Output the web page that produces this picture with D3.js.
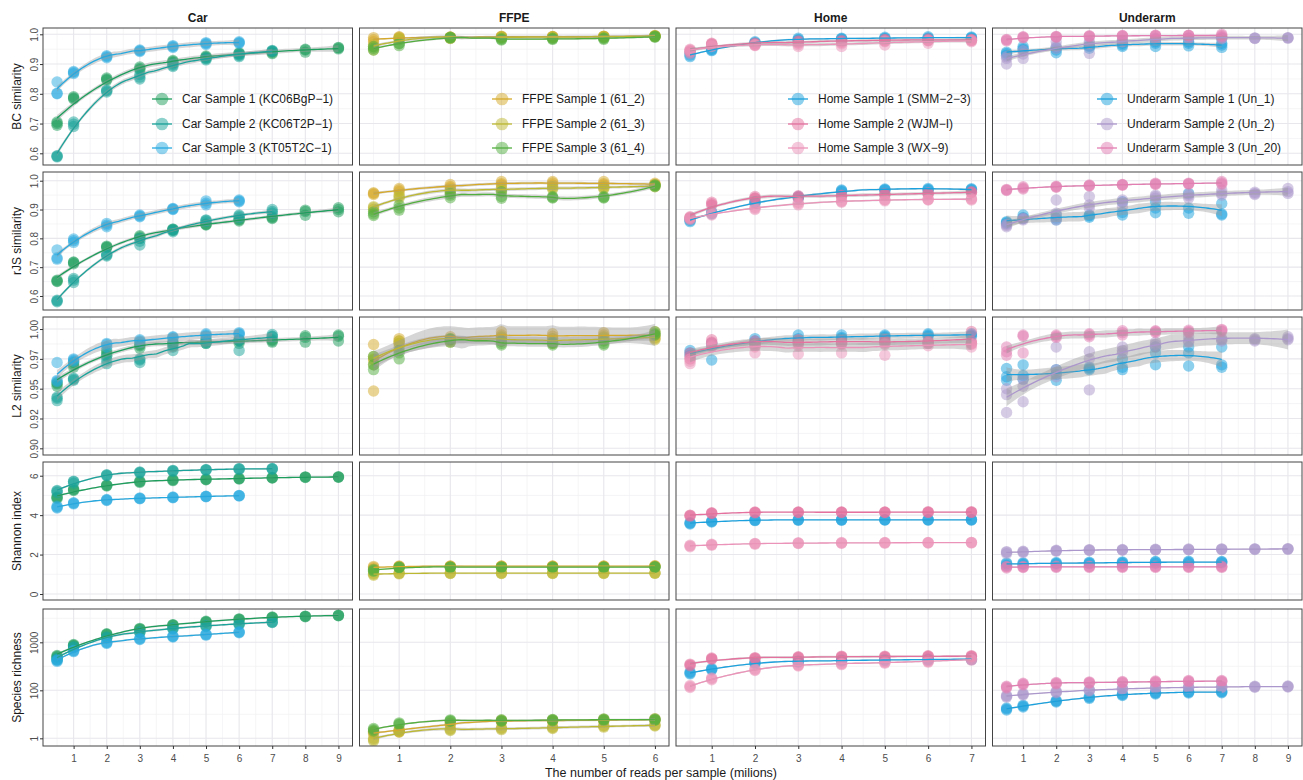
<!DOCTYPE html>
<html>
<head>
<meta charset="utf-8">
<script src="https://cdn.jsdelivr.net/npm/d3@7"></script>
<style>
  body { margin: 0; background: #ffffff; }
  svg { display: block; }
  text { font-family: "Liberation Sans", Arial, Helvetica, sans-serif; }
</style>
</head>
<body>
<svg id="chart" width="1303" height="780"></svg>
<script>
// ---------------------------------------------------------------------------
// Sequencing depths (millions of reads) and facet labels
// ---------------------------------------------------------------------------
const READS = [0.5, 1, 2, 3, 4, 5, 6, 7, 8, 9];
const ENVIRONMENTS = ["Car", "FFPE", "Home", "Underarm"];
const METRICS = ["BC similarity", "rJS similarity", "L2 similarity", "Shannon index", "Species richness"];

const CAR_SAMPLES = ["Car Sample 1 (KC06BgP\u22121)", "Car Sample 2 (KC06T2P\u22121)", "Car Sample 3 (KT05T2C\u22121)"];
const FFPE_SAMPLES = ["FFPE Sample 1 (61_2)", "FFPE Sample 2 (61_3)", "FFPE Sample 3 (61_4)"];
const HOME_SAMPLES = ["Home Sample 1 (SMM\u22122\u22123)", "Home Sample 2 (WJM\u2212I)", "Home Sample 3 (WX\u22129)"];
const UNDERARM_SAMPLES = ["Underarm Sample 1 (Un_1)", "Underarm Sample 2 (Un_2)", "Underarm Sample 3 (Un_20)"];

const CAR_COLORS = ["#1E9E5C", "#1AA39A", "#27A9DF"];
const FFPE_COLORS = ["#D6A92A", "#BDB832", "#52AE3E"];
const HOME_COLORS = ["#1BA1DD", "#E4719E", "#EB93B8"];
const UNDERARM_COLORS = ["#1BA1DD", "#AC97CC", "#E27EB1"];

// Axis ticks
const X_TICKS = [[1, 2, 3, 4, 5, 6, 7, 8, 9], [1, 2, 3, 4, 5, 6], [1, 2, 3, 4, 5, 6, 7], [1, 2, 3, 4, 5, 6, 7, 8, 9]];
const X_MINOR = [[0.5, 1.5, 2.5, 3.5, 4.5, 5.5, 6.5, 7.5, 8.5], [0.5, 1.5, 2.5, 3.5, 4.5, 5.5], [0.5, 1.5, 2.5, 3.5, 4.5, 5.5, 6.5], [0.5, 1.5, 2.5, 3.5, 4.5, 5.5, 6.5, 7.5, 8.5]];
const X_DOMAINS = [[0.075, 9.425], [0.225, 6.275], [0.175, 7.325], [0.075, 9.425]];

const Y_TICKS = [[0.6, 0.7, 0.8, 0.9, 1.0], [0.6, 0.7, 0.8, 0.9, 1.0], [0.9, 0.925, 0.95, 0.975, 1.0], [0, 2, 4, 6], [10, 100, 1000]];
const Y_TICK_LABELS = [["0.6", "0.7", "0.8", "0.9", "1.0"], ["0.6", "0.7", "0.8", "0.9", "1.0"], ["0.90", "0.92", "0.95", "0.97", "1.00"], ["0", "2", "4", "6"], ["1", "100", "1000"]];
const Y_MINOR = [[0.65, 0.75, 0.85, 0.95], [0.65, 0.75, 0.85, 0.95], [0.9125, 0.9375, 0.9625, 0.9875], [1, 3, 5], [31.62, 316.2, 3162]];
const Y_DOMAINS = [[0.5607, 1.0212], [0.5514, 1.0302], [0.8944, 1.0101], [-0.304, 6.695], [6.92, 4943]];

// ---------------------------------------------------------------------------
// Replicate values per sample; each inner triple belongs to READS[i]
// ---------------------------------------------------------------------------
// Bray-Curtis similarity
const BC_CAR = [
  [[0.705,0.694,0.700],[0.786,0.790,0.783],[0.849,0.853,0.846],[0.885,0.890,0.881],[0.909,0.912,0.905],[0.924,0.927,0.920],[0.935,0.938,0.931],[0.938,0.942,0.935],[0.950,0.940,0.947],[0.954,0.956,0.951]],
  [[0.590,0.588,0.592],[0.705,0.690,0.698],[0.810,0.813,0.806],[0.856,0.865,0.850],[0.896,0.900,0.892],[0.918,0.922,0.914],[0.929,0.935,0.925],[0.946,0.942,0.944]],
  [[0.840,0.800,0.802],[0.875,0.868,0.872],[0.925,0.921,0.928],[0.945,0.942,0.947],[0.959,0.956,0.962],[0.969,0.972,0.966],[0.972,0.975,0.970]]
];
const BC_FFPE = [
  [[0.989,0.975,0.982],[0.992,0.987,0.990],[0.990,0.988,0.991],[0.994,0.990,0.992],[0.993,0.990,0.992],[0.994,0.992,0.993],[0.994,0.996,0.993]],
  [[0.947,0.965,0.958],[0.985,0.982,0.988],[0.988,0.990,0.986],[0.992,0.988,0.990],[0.991,0.988,0.992],[0.993,0.990,0.991],[0.995,0.993,0.994]],
  [[0.959,0.947,0.953],[0.970,0.962,0.968],[0.989,0.987,0.990],[0.983,0.981,0.986],[0.983,0.985,0.987],[0.983,0.986,0.988],[0.994,0.990,0.992]]
];
const BC_HOME = [
  [[0.925,0.936,0.930],[0.947,0.950,0.945],[0.975,0.972,0.970],[0.987,0.980,0.983],[0.987,0.985,0.983],[0.990,0.987,0.985],[0.992,0.988,0.986],[0.989,0.991,0.987]],
  [[0.947,0.940,0.943],[0.970,0.965,0.968],[0.964,0.968,0.970],[0.975,0.978,0.972],[0.975,0.979,0.976],[0.981,0.978,0.983],[0.981,0.984,0.979],[0.981,0.983,0.980]],
  [[0.936,0.945,0.950],[0.959,0.965,0.962],[0.964,0.962,0.966],[0.959,0.970,0.965],[0.959,0.968,0.972],[0.964,0.975,0.978],[0.970,0.978,0.980],[0.975,0.978,0.980]]
];
const BC_UNDERARM = [
  [[0.936,0.930,0.940],[0.959,0.947,0.952],[0.947,0.938,0.955],[0.959,0.953,0.962],[0.964,0.959,0.970],[0.970,0.959,0.975],[0.970,0.961,0.975],[0.964,0.956,0.970]],
  [[0.919,0.900,0.925],[0.934,0.919,0.945],[0.975,0.953,0.960],[0.936,0.970,0.975],[0.975,0.980,0.978],[0.987,0.982,0.984],[0.987,0.985,0.988],[0.987,0.985,0.989],[0.987,0.988,0.986],[0.987,0.989,0.988]],
  [[0.981,0.978,0.983],[0.992,0.988,0.990],[0.992,0.990,0.993],[0.994,0.992,0.995],[0.995,0.993,0.996],[0.996,0.994,0.997],[0.997,0.995,0.996],[1.000,0.992,0.996]]
];

// rJS similarity
const RJS_CAR = [
  [[0.655,0.650,0.652],[0.716,0.712,0.718],[0.773,0.768,0.770],[0.809,0.800,0.805],[0.832,0.828,0.830],[0.846,0.850,0.848],[0.864,0.860,0.866],[0.869,0.872,0.875],[0.898,0.880,0.893],[0.906,0.892,0.900]],
  [[0.583,0.580,0.585],[0.661,0.647,0.655],[0.739,0.745,0.742],[0.777,0.800,0.790],[0.827,0.832,0.823],[0.864,0.858,0.862],[0.881,0.872,0.877],[0.900,0.887,0.893]],
  [[0.760,0.728,0.732],[0.798,0.786,0.792],[0.852,0.840,0.846],[0.881,0.875,0.878],[0.904,0.900,0.902],[0.930,0.916,0.922],[0.933,0.927,0.930]]
];
const RJS_FFPE = [
  [[0.956,0.952,0.958],[0.973,0.962,0.968],[0.987,0.975,0.980],[0.997,0.985,0.990],[0.997,0.985,0.992],[0.997,0.985,0.990],[0.991,0.985,0.988]],
  [[0.906,0.910,0.900],[0.939,0.945,0.950],[0.968,0.960,0.965],[0.962,0.970,0.975],[0.979,0.975,0.970],[0.979,0.975,0.972],[0.979,0.985,0.982]],
  [[0.879,0.892,0.885],[0.916,0.898,0.905],[0.956,0.941,0.950],[0.939,0.962,0.945],[0.945,0.942,0.940],[0.942,0.945,0.940],[0.983,0.985,0.980]]
];
const RJS_HOME = [
  [[0.858,0.862,0.865],[0.892,0.885,0.888],[0.927,0.922,0.925],[0.945,0.940,0.942],[0.968,0.962,0.965],[0.971,0.967,0.969],[0.973,0.968,0.970],[0.968,0.972,0.970]],
  [[0.875,0.869,0.872],[0.925,0.915,0.920],[0.945,0.938,0.940],[0.945,0.942,0.948],[0.945,0.950,0.948],[0.956,0.952,0.950],[0.956,0.953,0.958],[0.962,0.958,0.960]],
  [[0.869,0.865,0.872],[0.881,0.890,0.885],[0.904,0.908,0.900],[0.916,0.920,0.925],[0.925,0.928,0.930],[0.933,0.930,0.935],[0.933,0.936,0.935],[0.933,0.938,0.936]]
];
const RJS_UNDERARM = [
  [[0.852,0.858,0.855],[0.881,0.869,0.872],[0.881,0.864,0.870],[0.881,0.873,0.878],[0.927,0.881,0.890],[0.927,0.889,0.905],[0.956,0.887,0.905],[0.921,0.881,0.885]],
  [[0.840,0.849,0.845],[0.864,0.870,0.868],[0.933,0.887,0.864],[0.945,0.916,0.905],[0.933,0.910,0.925],[0.950,0.939,0.945],[0.953,0.939,0.948],[0.968,0.956,0.950],[0.956,0.960,0.952],[0.973,0.956,0.962]],
  [[0.968,0.966,0.970],[0.979,0.971,0.975],[0.979,0.977,0.981],[0.985,0.982,0.983],[0.987,0.984,0.986],[0.991,0.987,0.989],[0.991,0.988,0.990],[0.997,0.988,0.992]]
];

// L2 similarity
const L2_CAR = [
  [[0.954,0.952,0.955],[0.970,0.972,0.968],[0.980,0.978,0.982],[0.986,0.984,0.987],[0.988,0.986,0.989],[0.989,0.991,0.988],[0.988,0.990,0.991],[0.989,0.990,0.991],[0.9944,0.989,0.993],[0.995,0.990,0.994]],
  [[0.943,0.940,0.942],[0.9587,0.957,0.958],[0.971,0.977,0.974],[0.974,0.972,0.975],[0.982,0.988,0.985],[0.991,0.988,0.989],[0.982,0.991,0.990],[0.9955,0.9936,0.994]],
  [[0.972,0.957,0.956],[0.975,0.974,0.973],[0.988,0.985,0.987],[0.989,0.991,0.990],[0.9936,0.992,0.993],[0.995,0.996,0.994],[0.9955,0.997,0.996]]
];
const L2_FFPE = [
  [[0.987,0.948,0.975],[0.992,0.988,0.990],[0.9936,0.990,0.991],[0.9978,0.993,0.995],[0.996,0.992,0.994],[0.997,0.993,0.995],[0.9978,0.992,0.995]],
  [[0.974,0.970,0.977],[0.988,0.985,0.990],[0.989,0.991,0.992],[0.9936,0.990,0.992],[0.992,0.988,0.990],[0.9936,0.991,0.992],[0.995,0.991,0.993]],
  [[0.970,0.966,0.977],[0.982,0.975,0.980],[0.991,0.989,0.992],[0.988,0.9866,0.990],[0.9866,0.988,0.989],[0.988,0.9866,0.990],[0.9978,0.995,0.996]]
];
const L2_HOME = [
  [[0.980,0.982,0.978],[0.974,0.988,0.986],[0.992,0.988,0.990],[0.995,0.990,0.992],[0.995,0.992,0.993],[0.995,0.993,0.994],[0.996,0.994,0.995],[0.995,0.994,0.996]],
  [[0.975,0.980,0.977],[0.991,0.988,0.989],[0.988,0.986,0.990],[0.988,0.991,0.989],[0.989,0.990,0.988],[0.989,0.991,0.990],[0.988,0.990,0.989],[0.998,0.988,0.990]],
  [[0.971,0.975,0.973],[0.988,0.985,0.986],[0.980,0.985,0.987],[0.979,0.986,0.988],[0.980,0.987,0.988],[0.978,0.988,0.987],[0.988,0.986,0.989],[0.985,0.988,0.987]]
];
const L2_UNDERARM = [
  [[0.967,0.957,0.960],[0.970,0.961,0.958],[0.957,0.966,0.962],[0.967,0.966,0.968],[0.968,0.966,0.975],[0.970,0.985,0.980],[0.969,0.985,0.980],[0.968,0.985,0.970]],
  [[0.930,0.950,0.945],[0.939,0.952,0.958],[0.985,0.966,0.960],[0.981,0.949,0.975],[0.980,0.985,0.982],[0.989,0.987,0.985],[0.989,0.9936,0.990],[0.992,0.990,0.991],[0.992,0.991,0.990],[0.9936,0.991,0.992]],
  [[0.985,0.981,0.978],[0.995,0.980,0.994],[0.995,0.993,0.994],[0.996,0.9936,0.995],[0.9986,0.995,0.997],[0.9986,0.997,0.998],[0.999,0.997,0.998],[0.9997,0.998,0.999]]
];

// Shannon index
const SHANNON_CAR = [
  [[4.89,4.85,4.92],[5.29,5.25,5.32],[5.51,5.48,5.53],[5.70,5.66,5.72],[5.78,5.75,5.80],[5.81,5.79,5.83],[5.85,5.83,5.87],[5.90,5.88,5.91],[5.93,5.91,5.94],[5.93,5.92,5.95]],
  [[5.22,5.15,5.25],[5.70,5.62,5.72],[6.03,6.00,6.05],[6.17,6.14,6.19],[6.25,6.22,6.27],[6.30,6.28,6.31],[6.35,6.32,6.36],[6.35,6.33,6.37]],
  [[4.40,4.36,4.45],[4.60,4.57,4.63],[4.77,4.74,4.79],[4.85,4.83,4.87],[4.90,4.88,4.92],[4.95,4.93,4.96],[4.99,4.97,5.00]]
];
const SHANNON_FFPE = [
  [[1.40,1.28,1.35],[1.42,1.38,1.40],[1.42,1.40,1.41],[1.42,1.40,1.41],[1.42,1.40,1.41],[1.42,1.40,1.41],[1.43,1.40,1.42]],
  [[1.00,0.95,1.05],[1.05,1.02,1.06],[1.06,1.04,1.07],[1.06,1.04,1.07],[1.06,1.04,1.07],[1.06,1.04,1.07],[1.06,1.05,1.07]],
  [[1.15,1.25,1.20],[1.33,1.35,1.37],[1.35,1.37,1.36],[1.35,1.37,1.36],[1.35,1.37,1.36],[1.36,1.37,1.35],[1.36,1.38,1.37]]
];
const SHANNON_HOME = [
  [[3.59,3.55,3.62],[3.68,3.65,3.70],[3.74,3.72,3.76],[3.76,3.74,3.77],[3.76,3.74,3.77],[3.76,3.75,3.77],[3.76,3.75,3.77],[3.76,3.75,3.78]],
  [[3.98,3.95,4.00],[4.10,4.08,4.12],[4.14,4.12,4.16],[4.15,4.13,4.16],[4.15,4.13,4.16],[4.15,4.13,4.16],[4.15,4.14,4.17],[4.15,4.14,4.17]],
  [[2.44,2.40,2.47],[2.50,2.48,2.52],[2.55,2.53,2.57],[2.58,2.56,2.60],[2.59,2.57,2.61],[2.60,2.58,2.61],[2.60,2.59,2.62],[2.61,2.59,2.62]]
];
const SHANNON_UNDERARM = [
  [[1.53,1.45,1.58],[1.55,1.50,1.58],[1.56,1.52,1.60],[1.58,1.54,1.61],[1.60,1.55,1.63],[1.62,1.56,1.65],[1.62,1.57,1.66],[1.62,1.58,1.65]],
  [[2.12,2.05,2.15],[2.14,2.10,2.17],[2.20,2.17,2.22],[2.23,2.21,2.25],[2.24,2.22,2.26],[2.25,2.23,2.27],[2.26,2.24,2.28],[2.27,2.25,2.29],[2.28,2.26,2.29],[2.29,2.27,2.30]],
  [[1.37,1.32,1.40],[1.37,1.34,1.40],[1.38,1.35,1.41],[1.38,1.35,1.41],[1.38,1.35,1.41],[1.38,1.35,1.41],[1.38,1.35,1.41],[1.38,1.35,1.41]]
];

// Species richness (counts, drawn on a log axis)
const RICHNESS_CAR = [
  [[513,495,530],[871,850,900],[1479,1440,1510],[1905,1860,1950],[2291,2240,2340],[2692,2640,2750],[3020,2960,3080],[3311,3250,3370],[3467,3420,3520],[3631,3580,3690]],
  [[447,430,465],[794,770,815],[1259,1220,1295],[1622,1580,1660],[1950,1900,2000],[2188,2140,2240],[2399,2350,2450],[2630,2580,2690]],
  [[417,400,435],[661,640,680],[977,950,1005],[1175,1140,1210],[1318,1285,1350],[1445,1410,1480],[1622,1585,1660]]
];
const RICHNESS_FFPE = [
  [[13.2,12.5,14],[14.1,13.5,14.8],[20,19,21],[22.9,22,23.8],[23.4,22.5,24.2],[24,23,25],[24.5,23.5,25.5]],
  [[9.3,8.8,10],[14.1,13.5,14.8],[15.1,14.5,15.8],[15.8,15.2,16.5],[16.6,16,17.2],[17.8,17.1,18.5],[18.6,18,19.3]],
  [[15.1,14.2,16],[20,19.2,21],[23.4,22.6,24.2],[23.4,22.6,24.4],[24,23.2,24.8],[24.5,23.6,25.4],[24.5,23.8,25.4]]
];
const RICHNESS_HOME = [
  [[229,220,240],[275,265,285],[372,360,385],[398,385,410],[417,405,430],[427,415,440],[437,425,450],[447,435,460]],
  [[339,325,352],[457,445,470],[468,455,480],[490,478,502],[501,490,515],[501,490,515],[513,500,526],[513,500,528]],
  [[120,114,126],[174,166,182],[269,258,280],[331,320,343],[355,343,367],[380,368,392],[398,386,410],[437,425,450]]
];
const RICHNESS_UNDERARM = [
  [[41,39,43],[47,45,49],[59,57,61],[71,68,74],[81,78,84],[87,84,90],[91,88,94],[92,89,95]],
  [[75,72,78],[83,80,86],[92,89,95],[100,97,103],[107,104,110],[112,109,115],[115,112,118],[117,114,120],[119,116,122],[120,117,123]],
  [[117,112,122],[135,130,140],[141,136,146],[145,140,150],[148,143,153],[151,146,156],[155,150,160],[155,150,160]]
];

// ---------------------------------------------------------------------------
// Facet table assembled from the arrays above
// ---------------------------------------------------------------------------
const SAMPLE_LABELS = [CAR_SAMPLES, FFPE_SAMPLES, HOME_SAMPLES, UNDERARM_SAMPLES];
const SAMPLE_COLORS = [CAR_COLORS, FFPE_COLORS, HOME_COLORS, UNDERARM_COLORS];
const FACETS = [
  [BC_CAR, BC_FFPE, BC_HOME, BC_UNDERARM],
  [RJS_CAR, RJS_FFPE, RJS_HOME, RJS_UNDERARM],
  [L2_CAR, L2_FFPE, L2_HOME, L2_UNDERARM],
  [SHANNON_CAR, SHANNON_FFPE, SHANNON_HOME, SHANNON_UNDERARM],
  [RICHNESS_CAR, RICHNESS_FFPE, RICHNESS_HOME, RICHNESS_UNDERARM]
];

// Layout
const COL_X = [43, 359.5, 676, 992.5];
const PANEL_W = 309.5;
const ROW_Y = [28, 172, 317, 462, 609];
const PANEL_H = [137, 138, 138, 138, 137];
const LEGEND_KEY_X = [162, 502, 798, 1107];
const LEGEND_KEY_Y = [99, 124, 148];
const POINT_R = 5.7;
const FONT = "'Liberation Sans', Arial, Helvetica, sans-serif";

// ---------------------------------------------------------------------------
// Local quadratic regression (loess, tricube weights) with standard errors
// ---------------------------------------------------------------------------
function solve3(A, b) {
  const M = A.map((row, i) => [...row, b[i]]);
  for (let c = 0; c < 3; c++) {
    let p = c;
    for (let r = c + 1; r < 3; r++) if (Math.abs(M[r][c]) > Math.abs(M[p][c])) p = r;
    [M[c], M[p]] = [M[p], M[c]];
    const piv = Math.abs(M[c][c]) < 1e-14 ? 1e-14 : M[c][c];
    for (let r = 0; r < 3; r++) {
      if (r === c) continue;
      const f = M[r][c] / piv;
      for (let k = c; k < 4; k++) M[r][k] -= f * M[c][k];
    }
  }
  return [M[0][3] / M[0][0], M[1][3] / M[1][1], M[2][3] / M[2][2]];
}

function loess(xs, ys, span = 0.75) {
  const n = xs.length;
  const q = Math.min(n, Math.max(4, Math.floor(n * span)));
  const cache = new Map();
  const kernelRow = x0 => {
    const key = x0.toFixed(6);
    if (cache.has(key)) return cache.get(key);
    const d = xs.map(x => Math.abs(x - x0));
    const h = Math.max(d.slice().sort((a, b) => a - b)[q - 1] * 1.05, 1e-9);
    const w = d.map(di => { const r = di / h; return r < 1 ? Math.pow(1 - r * r * r, 3) : 0; });
    const S = [0, 0, 0, 0, 0];
    xs.forEach((x, i) => {
      const u = x - x0;
      let p = w[i];
      for (let k = 0; k < 5; k++) { S[k] += p; p *= u; }
    });
    const c = solve3([[S[0], S[1], S[2]], [S[1], S[2], S[3]], [S[2], S[3], S[4]]], [1, 0, 0]);
    const l = xs.map((x, i) => { const u = x - x0; return w[i] * (c[0] + c[1] * u + c[2] * u * u); });
    cache.set(key, l);
    return l;
  };
  // residual scale from the smoother matrix
  let rss = 0, delta1 = 0;
  xs.forEach((xi, i) => {
    const l = kernelRow(xi);
    const fit = d3.sum(l, (v, j) => v * ys[j]);
    rss += (ys[i] - fit) ** 2;
    l.forEach((v, j) => { delta1 += ((i === j ? 1 : 0) - v) ** 2; });
  });
  const s = Math.sqrt(rss / Math.max(delta1, 1));
  const tq = 2.04;
  const [lo, hi] = d3.extent(xs);
  return d3.range(81).map(k => {
    const x0 = lo + (hi - lo) * k / 80;
    const l = kernelRow(x0);
    const fit = d3.sum(l, (v, j) => v * ys[j]);
    const se = s * Math.sqrt(d3.sum(l, v => v * v));
    return { x: x0, fit, lo: fit - tq * se, hi: fit + tq * se };
  });
}

// ---------------------------------------------------------------------------
// Drawing
// ---------------------------------------------------------------------------
const svg = d3.select("#chart");
const defs = svg.append("defs");

ENVIRONMENTS.forEach((env, c) => {
  const x = d3.scaleLinear().domain(X_DOMAINS[c]).range([COL_X[c], COL_X[c] + PANEL_W]);

  // strip label
  svg.append("text")
    .attr("x", COL_X[c] + PANEL_W / 2).attr("y", 21.5)
    .attr("text-anchor", "middle")
    .attr("font-size", 12).attr("font-weight", "bold").attr("fill", "#1a1a1a")
    .text(env);

  METRICS.forEach((metric, r) => {
    const isLog = r === 4;
    const y = (isLog ? d3.scaleLog() : d3.scaleLinear())
      .domain(Y_DOMAINS[r]).range([ROW_Y[r] + PANEL_H[r], ROW_Y[r]]);
    const toFit = isLog ? Math.log10 : (v => v);
    const fromFit = isLog ? (v => Math.pow(10, v)) : (v => v);

    const x0 = COL_X[c], x1 = COL_X[c] + PANEL_W;
    const y0 = ROW_Y[r], y1 = ROW_Y[r] + PANEL_H[r];
    const g = svg.append("g");

    const clipId = `clip-${r}-${c}`;
    defs.append("clipPath").attr("id", clipId)
      .append("rect").attr("x", x0).attr("y", y0).attr("width", PANEL_W).attr("height", PANEL_H[r]);

    g.append("rect").attr("x", x0).attr("y", y0).attr("width", PANEL_W).attr("height", PANEL_H[r]).attr("fill", "#ffffff");

    // grid
    const grid = g.append("g");
    grid.selectAll(".vminor").data(X_MINOR[c].filter(v => v > X_DOMAINS[c][0] && v < X_DOMAINS[c][1]))
      .join("line").attr("x1", d => x(d)).attr("x2", d => x(d)).attr("y1", y0).attr("y2", y1)
      .attr("stroke", "#f0f0f4").attr("stroke-width", 0.7);
    grid.selectAll(".hminor").data(Y_MINOR[r])
      .join("line").attr("y1", d => y(d)).attr("y2", d => y(d)).attr("x1", x0).attr("x2", x1)
      .attr("stroke", "#f0f0f4").attr("stroke-width", 0.7);
    grid.selectAll(".vmajor").data(X_TICKS[c])
      .join("line").attr("x1", d => x(d)).attr("x2", d => x(d)).attr("y1", y0).attr("y2", y1)
      .attr("stroke", "#e7e7ec").attr("stroke-width", 1.1);
    grid.selectAll(".hmajor").data(Y_TICKS[r])
      .join("line").attr("y1", d => y(d)).attr("y2", d => y(d)).attr("x1", x0).attr("x2", x1)
      .attr("stroke", "#e7e7ec").attr("stroke-width", 1.1);

    const plot = g.append("g").attr("clip-path", `url(#${clipId})`);
    const series = FACETS[r][c];
    const colors = SAMPLE_COLORS[c];

    // replicate points
    series.forEach((reps, s) => {
      const pts = [];
      reps.forEach((vals, i) => vals.forEach(v => pts.push({ x: READS[i], v })));
      plot.append("g").selectAll("circle").data(pts).join("circle")
        .attr("cx", d => x(d.x)).attr("cy", d => y(d.v)).attr("r", POINT_R)
        .attr("fill", colors[s]).attr("fill-opacity", 0.5);
    });

    // smoothed trend with confidence band
    series.forEach((reps, s) => {
      const xs = [], ys = [];
      reps.forEach((vals, i) => vals.forEach(v => { xs.push(READS[i]); ys.push(toFit(v)); }));
      const curve = loess(xs, ys);
      plot.append("path").datum(curve)
        .attr("d", d3.area().x(d => x(d.x)).y0(d => y(fromFit(d.lo))).y1(d => y(fromFit(d.hi))))
        .attr("fill", "#999999").attr("fill-opacity", 0.4);
      plot.append("path").datum(curve)
        .attr("d", d3.line().x(d => x(d.x)).y(d => y(fromFit(d.fit))))
        .attr("fill", "none").attr("stroke", colors[s]).attr("stroke-width", 1.3);
    });

    // panel border
    g.append("rect").attr("x", x0).attr("y", y0).attr("width", PANEL_W).attr("height", PANEL_H[r])
      .attr("fill", "none").attr("stroke", "#444444").attr("stroke-width", 1);

    // y axis on the first column
    if (c === 0) {
      const ax = g.append("g").attr("transform", `translate(${x0},0)`)
        .call(d3.axisLeft(y).tickValues(Y_TICKS[r]).tickSize(3).tickFormat((d, i) => Y_TICK_LABELS[r][i]));
      ax.select(".domain").remove();
      ax.selectAll(".tick line").attr("stroke", "#333333");
      ax.selectAll(".tick text")
        .attr("x", null).attr("dy", null)
        .attr("text-anchor", "middle")
        .attr("transform", "translate(-5,0) rotate(-90)")
        .attr("fill", "#4d4d4d").attr("font-size", 10).attr("font-family", FONT);
      svg.append("text")
        .attr("transform", `translate(21,${(y0 + y1) / 2}) rotate(-90)`)
        .attr("text-anchor", "middle").attr("font-size", 12).attr("fill", "#1a1a1a")
        .text(metric);
    }

    // x axis on the bottom row
    if (r === METRICS.length - 1) {
      const ax = g.append("g").attr("transform", `translate(0,${y1})`)
        .call(d3.axisBottom(x).tickValues(X_TICKS[c]).tickSize(3).tickFormat(d3.format("d")));
      ax.select(".domain").remove();
      ax.selectAll(".tick line").attr("stroke", "#333333");
      ax.selectAll(".tick text").attr("y", 8.5)
        .attr("fill", "#4d4d4d").attr("font-size", 10).attr("font-family", FONT);
    }

    // legend inside the top panel
    if (r === 0) {
      const lg = g.append("g");
      SAMPLE_LABELS[c].forEach((label, s) => {
        const ky = LEGEND_KEY_Y[s], kx = LEGEND_KEY_X[c];
        lg.append("line").attr("x1", kx - 10).attr("x2", kx + 10).attr("y1", ky).attr("y2", ky)
          .attr("stroke", colors[s]).attr("stroke-width", 1.3);
        lg.append("circle").attr("cx", kx).attr("cy", ky).attr("r", 6.3)
          .attr("fill", colors[s]).attr("fill-opacity", 0.5);
        lg.append("text").attr("x", kx + 20).attr("y", ky).attr("dy", "0.35em")
          .attr("font-size", 12).attr("fill", "#1a1a1a").text(label);
      });
    }
  });
});

// shared x title
svg.append("text")
  .attr("x", 661).attr("y", 777)
  .attr("text-anchor", "middle").attr("font-size", 12.5).attr("fill", "#1a1a1a")
  .text("The number of reads per sample (milions)");
</script>
</body>
</html>
